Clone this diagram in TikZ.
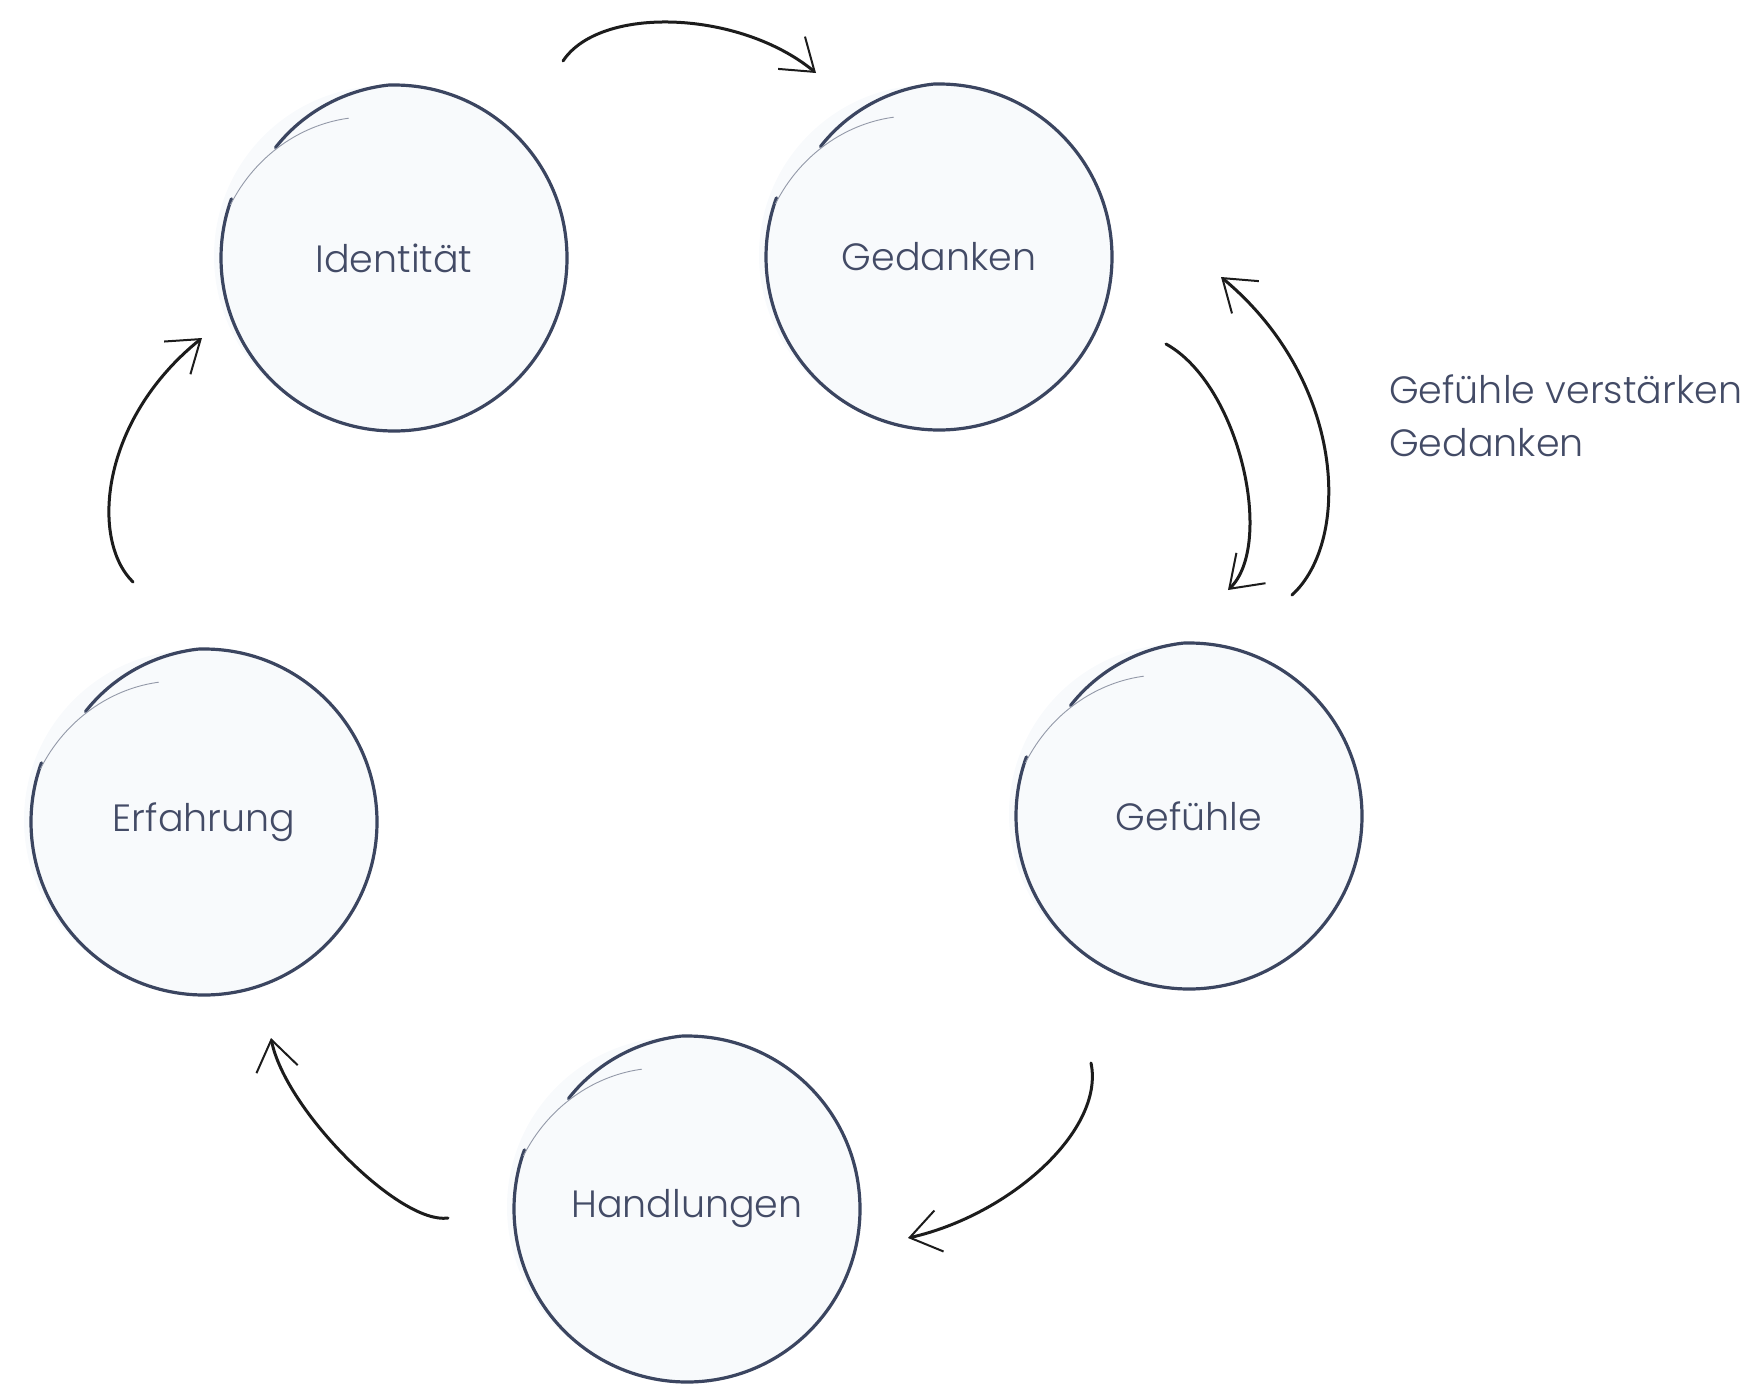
\documentclass[tikz,border=0pt]{standalone}
\usepackage{fontspec}
\setmainfont{Poppins Light}
\usetikzlibrary{arrows.meta}
\definecolor{ink}{HTML}{3B4560}
\definecolor{txt}{HTML}{434B66}
\definecolor{paper}{HTML}{F8FAFC}
\definecolor{pen}{HTML}{1C1C1C}

\begin{document}
\begin{tikzpicture}[x=1pt, y=-1pt,
  bubble/.style={circle, fill=paper, minimum size=346pt,
    inner sep=0pt, text=txt, font=\fontsize{38}{53}\selectfont},
  halo/.style={circle, fill=paper, minimum size=340pt, inner sep=0pt},
  outline/.style={ink, line width=3.2pt, line cap=round},
  trail/.style={ink!55, line width=0.9pt, line cap=round},
  flow/.style={pen, line width=3pt, line cap=round,
    -{Straight Barb[length=30pt, width=42pt, line width=2pt]}}]
\useasboundingbox (0, 0) rectangle (1757, 1384);
%Soft wash behind the circles
\node[halo] (identhalo) at (384, 256) {};
\node[halo] (gedankhalo) at (929, 255) {};
\node[halo] (gefuehlhalo) at (1179, 814) {};
\node[halo] (handlhalo) at (677, 1207) {};
\node[halo] (erfahrhalo) at (194, 820) {};
%Circles
\node[bubble] (ident) at (394, 258) {Identit\"at};
\node[bubble] (gedank) at (939, 257) {Gedanken};
\node[bubble] (gefuehl) at (1189, 816) {Gef\"uhle};
\node[bubble] (handl) at (687, 1209) {Handlungen};
\node[bubble] (erfahr) at (204, 822) {Erfahrung};
%Hand-drawn outlines
\foreach \c in {ident, gedank, gefuehl, handl, erfahr} {
  \draw[outline, shift={(\c.center)}] plot[domain=-137:-92, samples=24, smooth]
    ({cos(\x)*(162+11*(\x+137)/45)}, {sin(\x)*(162+11*(\x+137)/45)})
    arc[start angle=-92, end angle=200, radius=173];
  \draw[trail, shift={(\c.center)}] plot[domain=-162:-108, samples=24, smooth]
    ({cos(\x)*(172-25*(\x+162)/54)}, {sin(\x)*(172-25*(\x+162)/54)});
}
%Arrow ends
\coordinate (identout) at (563, 61);
\coordinate (gedankin) at (816, 73);
\coordinate (gedankout) at (1166, 344);
\coordinate (gefuehlin) at (1228, 590);
\coordinate (gefuehlback) at (1292, 595);
\coordinate (gedankback) at (1221, 277);
\coordinate (gefuehlout) at (1091, 1063);
\coordinate (handlin) at (908, 1238);
\coordinate (handlout) at (448, 1218);
\coordinate (erfahrin) at (271, 1038);
\coordinate (erfahrout) at (133, 582);
\coordinate (identin) at (202, 338);
%Arrows
\draw[flow] (identout) .. controls (600, 5) and (740, 10) .. (gedankin);
\draw[flow] (gedankout) .. controls (1240, 385) and (1275, 545) .. (gefuehlin);
\draw[flow] (gefuehlback) .. controls (1352, 540) and (1345, 380) .. (gedankback);
\draw[flow] (gefuehlout) .. controls (1105, 1130) and (1010, 1215) .. (handlin);
\draw[flow] (handlout) .. controls (400, 1225) and (285, 1110) .. (erfahrin);
\draw[flow] (erfahrout) .. controls (90, 540) and (100, 420) .. (identin);
%Label
\node[anchor=north west, align=left, text=txt, font=\fontsize{38}{53}\selectfont, inner sep=0pt]
  (note) at (1389, 375) {Gef\"uhle verst\"arken\\Gedanken};
\end{tikzpicture}
\end{document}
